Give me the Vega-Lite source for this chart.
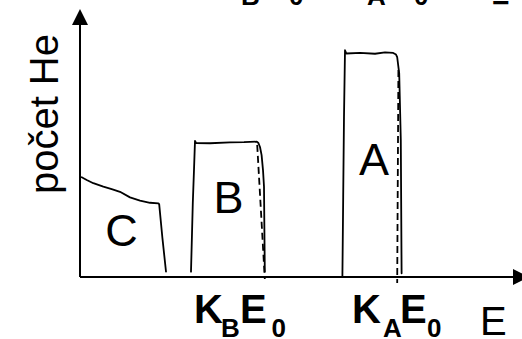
{
  "$schema": "https://vega.github.io/schema/vega-lite/v6.json",
  "autosize": "none",
  "width": 442,
  "height": 268,
  "padding": {"left": 80, "top": 9, "right": 0, "bottom": 62},
  "background": "white",
  "config": {"view": {"stroke": null}},
  "datasets": {
    "curves": [
      {"part": "C", "i": 1, "e": 0.43, "n": 37.2},
      {"part": "C", "i": 2, "e": 1.68, "n": 36.2},
      {"part": "C", "i": 3, "e": 3.33, "n": 35.0},
      {"part": "C", "i": 4, "e": 5.83, "n": 33.7},
      {"part": "C", "i": 5, "e": 7.93, "n": 32.8},
      {"part": "C", "i": 6, "e": 10.0, "n": 31.8},
      {"part": "C", "i": 7, "e": 12.5, "n": 29.7},
      {"part": "C", "i": 8, "e": 15.0, "n": 28.5},
      {"part": "C", "i": 9, "e": 17.5, "n": 27.7},
      {"part": "C", "i": 10, "e": 19.6, "n": 27.5},
      {"part": "C", "i": 11, "e": 19.8, "n": 27.1},
      {"part": "C", "i": 12, "e": 20.6, "n": 14.6},
      {"part": "C", "i": 13, "e": 21.5, "n": 2.0},
      {"part": "B", "i": 1, "e": 27.75, "n": 2.0},
      {"part": "B", "i": 2, "e": 28.2, "n": 27.6},
      {"part": "B", "i": 3, "e": 28.5, "n": 40.0},
      {"part": "B", "i": 4, "e": 28.75, "n": 50.8},
      {"part": "B", "i": 5, "e": 29.0, "n": 50.0},
      {"part": "B", "i": 6, "e": 32.5, "n": 49.9},
      {"part": "B", "i": 7, "e": 37.5, "n": 50.2},
      {"part": "B", "i": 8, "e": 41.0, "n": 50.3},
      {"part": "B", "i": 9, "e": 44.2, "n": 50.5},
      {"part": "B", "i": 10, "e": 44.6, "n": 50.0},
      {"part": "B", "i": 11, "e": 45.0, "n": 48.5},
      {"part": "B", "i": 12, "e": 45.4, "n": 45.5},
      {"part": "B", "i": 13, "e": 45.75, "n": 39.9},
      {"part": "B", "i": 14, "e": 46.0, "n": 33.7},
      {"part": "B", "i": 15, "e": 46.1, "n": 17.5},
      {"part": "B", "i": 16, "e": 46.2, "n": 2.0},
      {"part": "A", "i": 1, "e": 65.6, "n": 0.1},
      {"part": "A", "i": 2, "e": 65.8, "n": 30.0},
      {"part": "A", "i": 3, "e": 66.0, "n": 60.0},
      {"part": "A", "i": 4, "e": 66.25, "n": 84.6},
      {"part": "A", "i": 5, "e": 66.6, "n": 83.4},
      {"part": "A", "i": 6, "e": 70.0, "n": 83.6},
      {"part": "A", "i": 7, "e": 73.75, "n": 83.3},
      {"part": "A", "i": 8, "e": 76.25, "n": 83.8},
      {"part": "A", "i": 9, "e": 78.3, "n": 83.6},
      {"part": "A", "i": 10, "e": 79.0, "n": 83.0},
      {"part": "A", "i": 11, "e": 79.3, "n": 82.0},
      {"part": "A", "i": 12, "e": 79.8, "n": 76.0},
      {"part": "A", "i": 13, "e": 80.2, "n": 51.1},
      {"part": "A", "i": 14, "e": 80.4, "n": 1.4}
    ],
    "edges": [
      {"part": "KB", "i": 1, "e": 44.3, "n": 49.3},
      {"part": "KB", "i": 2, "e": 46.2, "n": -0.75},
      {"part": "KA", "i": 1, "e": 79.6, "n": 77.2},
      {"part": "KA", "i": 2, "e": 79.3, "n": -2.2}
    ],
    "axes": [
      {"part": "count", "i": 1, "e": 0, "n": 0},
      {"part": "count", "i": 2, "e": 0, "n": 95},
      {"part": "energy", "i": 1, "e": 0, "n": 0},
      {"part": "energy", "i": 2, "e": 109, "n": 0}
    ],
    "letters": [
      {"t": "A", "e": 73.5, "n": 38.1},
      {"t": "B", "e": 37.1, "n": 23.9},
      {"t": "C", "e": 10.4, "n": 11.6}
    ],
    "mainBold": [
      {"t": "K", "e": 28.5, "n": -17.2},
      {"t": "E", "e": 40.0, "n": -17.2},
      {"t": "K", "e": 68.0, "n": -17.2},
      {"t": "E", "e": 80.0, "n": -17.2}
    ],
    "subBold": [
      {"t": "B", "e": 35.25, "n": -22.4},
      {"t": "0", "e": 47.9, "n": -22.4},
      {"t": "A", "e": 75.75, "n": -22.4},
      {"t": "0", "e": 86.75, "n": -22.4},
      {"t": "B", "e": 40.25, "n": 101.5},
      {"t": "0", "e": 52.25, "n": 101.5},
      {"t": "A", "e": 71.75, "n": 101.5},
      {"t": "0", "e": 83.5, "n": 101.5}
    ],
    "equals": [
      {"t": "=", "e": 103, "n": 100}
    ],
    "energyTitle": [
      {"t": "E", "e": 100, "n": -21.6}
    ],
    "countTitle": [
      {"t": "počet He", "e": -5.5, "n": 60.8}
    ]
  },
  "layer": [
    {
      "data": {"name": "axes"},
      "mark": {"type": "line", "color": "black", "strokeWidth": 2, "clip": false},
      "encoding": {
        "x": {"field": "e", "type": "quantitative", "scale": {"domain": [0, 110.5], "nice": false, "zero": false}, "axis": null},
        "y": {"field": "n", "type": "quantitative", "scale": {"domain": [0, 100], "nice": false, "zero": false}, "axis": null},
        "detail": {"field": "part"},
        "order": {"field": "i"}
      }
    },
    {
      "data": {"values": [{"dir": "up", "e": 0, "n": 97.0}]},
      "mark": {"type": "point", "filled": true, "color": "black", "opacity": 1, "size": 256, "shape": "M0,-1L1,1L-1,1Z", "clip": false},
      "encoding": {
        "x": {"field": "e", "type": "quantitative"},
        "y": {"field": "n", "type": "quantitative"}
      }
    },
    {
      "data": {"values": [{"dir": "right", "e": 110.25, "n": 0}]},
      "mark": {"type": "point", "filled": true, "color": "black", "opacity": 1, "size": 256, "shape": "M-1,-1L1,0L-1,1Z", "clip": false},
      "encoding": {
        "x": {"field": "e", "type": "quantitative"},
        "y": {"field": "n", "type": "quantitative"}
      }
    },
    {
      "data": {"name": "curves"},
      "mark": {"type": "line", "color": "black", "strokeWidth": 1.8, "strokeJoin": "round", "strokeCap": "round", "clip": false},
      "encoding": {
        "x": {"field": "e", "type": "quantitative"},
        "y": {"field": "n", "type": "quantitative"},
        "detail": {"field": "part"},
        "order": {"field": "i"}
      }
    },
    {
      "data": {"name": "edges"},
      "mark": {"type": "line", "color": "black", "strokeWidth": 1.8, "strokeDash": [7, 4], "clip": false},
      "encoding": {
        "x": {"field": "e", "type": "quantitative"},
        "y": {"field": "n", "type": "quantitative"},
        "detail": {"field": "part"},
        "order": {"field": "i"}
      }
    },
    {
      "data": {"name": "letters"},
      "mark": {"type": "text", "font": "Liberation Sans, Arial, sans-serif", "fontSize": 45, "align": "center", "baseline": "alphabetic", "color": "black"},
      "encoding": {
        "x": {"field": "e", "type": "quantitative"},
        "y": {"field": "n", "type": "quantitative"},
        "text": {"field": "t"}
      }
    },
    {
      "data": {"name": "mainBold"},
      "mark": {"type": "text", "font": "Liberation Sans, Arial, sans-serif", "fontSize": 40, "fontWeight": "bold", "align": "left", "baseline": "alphabetic", "color": "black"},
      "encoding": {
        "x": {"field": "e", "type": "quantitative"},
        "y": {"field": "n", "type": "quantitative"},
        "text": {"field": "t"}
      }
    },
    {
      "data": {"name": "subBold"},
      "mark": {"type": "text", "font": "Liberation Sans, Arial, sans-serif", "fontSize": 26, "fontWeight": "bold", "align": "left", "baseline": "alphabetic", "color": "black"},
      "encoding": {
        "x": {"field": "e", "type": "quantitative"},
        "y": {"field": "n", "type": "quantitative"},
        "text": {"field": "t"}
      }
    },
    {
      "data": {"name": "equals"},
      "mark": {"type": "text", "font": "Liberation Sans, Arial, sans-serif", "fontSize": 30, "fontWeight": "bold", "align": "left", "baseline": "alphabetic", "color": "black"},
      "encoding": {
        "x": {"field": "e", "type": "quantitative"},
        "y": {"field": "n", "type": "quantitative"},
        "text": {"field": "t"}
      }
    },
    {
      "data": {"name": "energyTitle"},
      "mark": {"type": "text", "font": "Liberation Sans, Arial, sans-serif", "fontSize": 40, "align": "left", "baseline": "alphabetic", "color": "black"},
      "encoding": {
        "x": {"field": "e", "type": "quantitative"},
        "y": {"field": "n", "type": "quantitative"},
        "text": {"field": "t"}
      }
    },
    {
      "data": {"name": "countTitle"},
      "mark": {"type": "text", "font": "Liberation Sans, Arial, sans-serif", "fontSize": 40, "angle": 270, "align": "center", "baseline": "alphabetic", "color": "black"},
      "encoding": {
        "x": {"field": "e", "type": "quantitative"},
        "y": {"field": "n", "type": "quantitative"},
        "text": {"field": "t"}
      }
    }
  ]
}
